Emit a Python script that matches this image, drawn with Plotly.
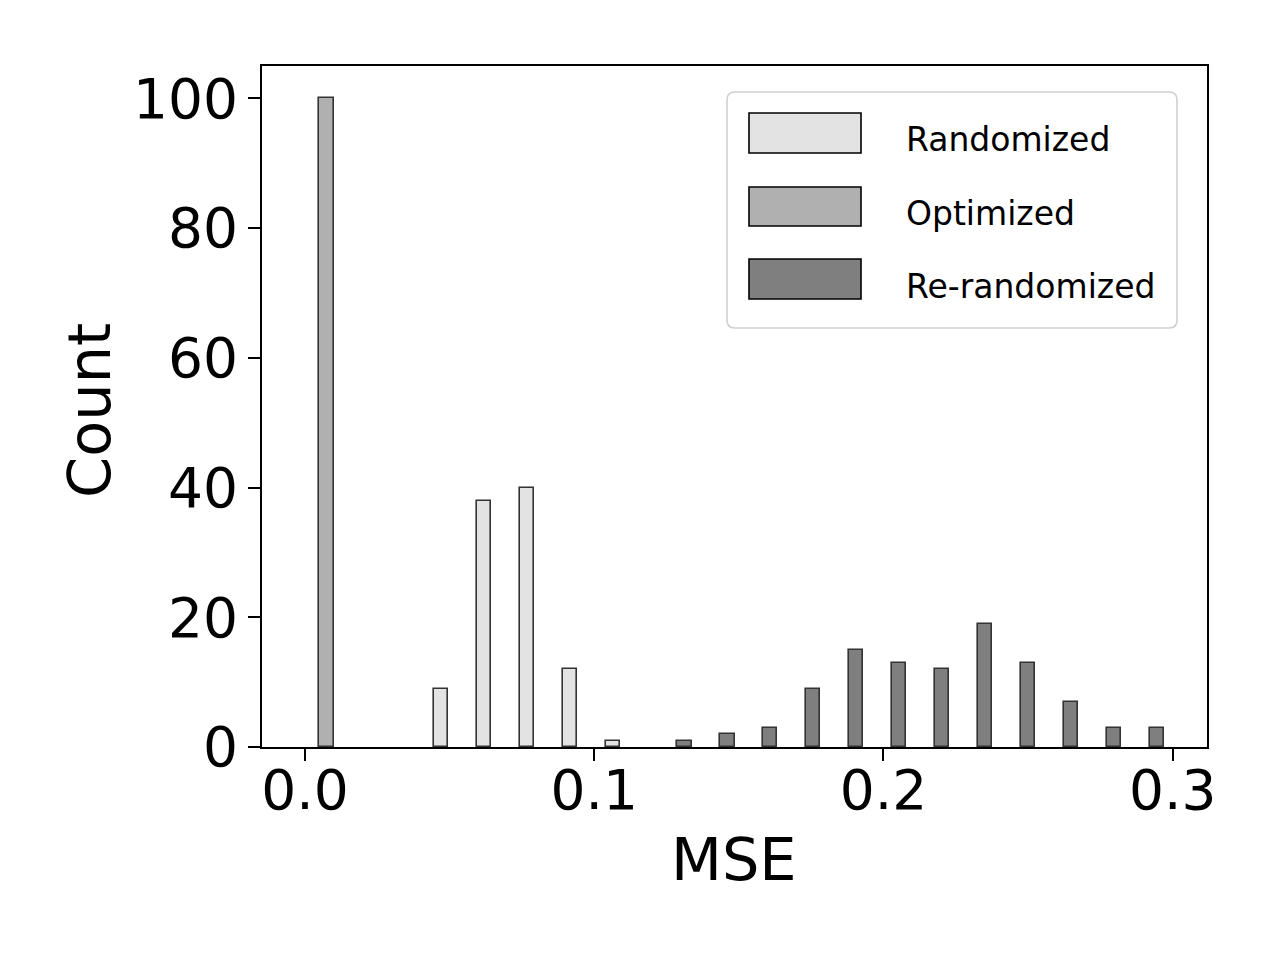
import numpy as np
import plotly.graph_objects as go

# Histogram bins on MSE (20 equal bins spanning the pooled data range)
mse_min = 0.0
mse_max = 0.297
n_bins = 20

# Counts per bin
randomized_counts = [0, 0, 0, 9, 38, 40, 12, 1, 0, 0,
                     0, 0, 0, 0, 0, 0, 0, 0, 0, 0]
optimized_counts = [100, 0, 0, 0, 0, 0, 0, 0, 0, 0,
                    0, 0, 0, 0, 0, 0, 0, 0, 0, 0]
rerandomized_counts = [0, 0, 0, 0, 0, 0, 0, 0, 1, 2,
                       3, 9, 15, 13, 12, 19, 13, 7, 3, 3]

series_names = ["Randomized", "Optimized", "Re-randomized"]
series_colors = ["#e3e3e3", "#b0b0b0", "#7f7f7f"]

x_ticks = [0.0, 0.1, 0.2, 0.3]
y_ticks = [0, 20, 40, 60, 80, 100]

bin_edges = np.linspace(mse_min, mse_max, n_bins + 1)
bin_centers = (bin_edges[:-1] + bin_edges[1:]) / 2
pad = 0.05 * (mse_max - mse_min)

FONT = "DejaVu Sans"
EDGE = "#333333"

fig = go.Figure()
for name, counts, color in zip(series_names,
                               [randomized_counts, optimized_counts, rerandomized_counts],
                               series_colors):
    fig.add_trace(go.Bar(
        x=bin_centers,
        y=[c if c > 0 else None for c in counts],
        name=name,
        marker=dict(color=color, line=dict(color=EDGE, width=1.6)),
        showlegend=False,
    ))

# page body has an 8px margin, so the figure sits at (8, 8) on screen
OFF = 8
W, H = 1280 - OFF, 960 - OFF
# plot area in screen pixels
L, R, T, B = 262, 1207, 66, 747


def px(x):
    return (x - L) / (R - L)


def py(y):
    return (B - y) / (B - T)


# hand-drawn legend box (matplotlib-style, big patches)
shapes = []
bx0, bx1, by0, by1, rad = 727, 1177, 92, 328, 8
path = (f"M {px(bx0 + rad)} {py(by0)} L {px(bx1 - rad)} {py(by0)} "
        f"Q {px(bx1)} {py(by0)} {px(bx1)} {py(by0 + rad)} "
        f"L {px(bx1)} {py(by1 - rad)} Q {px(bx1)} {py(by1)} {px(bx1 - rad)} {py(by1)} "
        f"L {px(bx0 + rad)} {py(by1)} Q {px(bx0)} {py(by1)} {px(bx0)} {py(by1 - rad)} "
        f"L {px(bx0)} {py(by0 + rad)} Q {px(bx0)} {py(by0)} {px(bx0 + rad)} {py(by0)} Z")
shapes.append(dict(type="path", xref="paper", yref="paper", path=path,
                   fillcolor="rgba(255,255,255,0.8)", line=dict(color="#d0d0d0", width=1.6)))

annotations = []
rows = [(113, 153, 140), (187, 226, 213), (259, 299, 286)]
for (y0, y1, yc), name, color in zip(rows, series_names, series_colors):
    shapes.append(dict(type="rect", xref="paper", yref="paper",
                       x0=px(749), x1=px(861), y0=py(y1), y1=py(y0),
                       fillcolor=color, line=dict(color="black", width=1.6)))
    annotations.append(dict(xref="paper", yref="paper", x=px(904), y=py(yc),
                            xanchor="left", yanchor="middle", showarrow=False,
                            text=name, font=dict(family=FONT, size=33, color="black")))

# axis titles placed as annotations for exact positioning
annotations.append(dict(xref="paper", yref="paper", x=px(734), y=py(859),
                        xanchor="center", yanchor="middle", showarrow=False,
                        text="MSE", font=dict(family=FONT, size=59, color="black")))
annotations.append(dict(xref="paper", yref="paper", x=px(90), y=py(411),
                        xanchor="center", yanchor="middle", showarrow=False, textangle=-90,
                        text="Count", font=dict(family=FONT, size=59, color="black")))

fig.update_layout(
    width=W, height=H,
    margin=dict(l=L - OFF, r=1280 - R, t=T - OFF, b=960 - B),
    plot_bgcolor="white", paper_bgcolor="white",
    barmode="group", bargap=0, bargroupgap=0,
    font=dict(family=FONT, color="black"),
    shapes=shapes,
    annotations=annotations,
)

axis_style = dict(
    showline=True, linecolor="black", linewidth=2, mirror=True,
    ticks="outside", ticklen=12, tickwidth=2, tickcolor="black",
    showgrid=False, zeroline=False,
    tickfont=dict(family=FONT, size=55, color="black"),
)

fig.update_xaxes(
    range=[mse_min - pad, mse_max + pad],
    tickvals=x_ticks, ticktext=[f"{v:.1f}" for v in x_ticks],
    ticklabelstandoff=-18,
    **axis_style,
)
fig.update_yaxes(
    range=[0, 105],
    tickvals=y_ticks,
    ticklabelstandoff=-1,
    **axis_style,
)

fig.write_html("out.html")
